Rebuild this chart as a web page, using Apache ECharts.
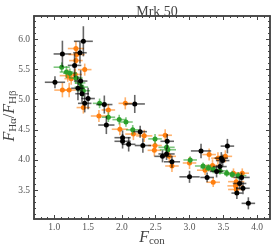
<!DOCTYPE html>
<html><head><meta charset="utf-8">
<script src="https://cdn.jsdelivr.net/npm/echarts@6/dist/echarts.min.js"></script>
<style>html,body{margin:0;padding:0;background:#fff}#c{width:274px;height:248px}</style>
</head><body><div id="c"></div>
<script>
// [x, y, xerr, yerr]
const blackPts = [
[1.01,5.29,0.15,0.10],[1.12,5.76,0.13,0.22],[1.43,5.97,0.14,0.25],[1.30,5.57,0.10,0.20],
[1.38,5.78,0.10,0.18],[1.39,5.31,0.10,0.18],[1.35,5.19,0.10,0.20],[1.41,5.10,0.10,0.15],
[1.50,5.02,0.10,0.18],[1.45,4.94,0.10,0.15],[1.74,4.92,0.12,0.15],[1.77,4.58,0.12,0.15],
[2.19,4.93,0.15,0.15],[2.01,4.37,0.12,0.12],[2.01,4.31,0.12,0.12],[2.10,4.26,0.10,0.12],
[2.27,4.47,0.10,0.10],[2.31,4.24,0.12,0.12],[2.60,4.06,0.12,0.10],[2.67,4.31,0.10,0.12],
[2.66,4.10,0.12,0.10],[2.74,3.97,0.12,0.10],[3.00,3.72,0.15,0.10],[3.17,4.15,0.15,0.12],
[3.56,4.23,0.10,0.12],[3.47,4.03,0.10,0.10],[3.49,3.99,0.10,0.10],[3.45,3.89,0.10,0.10],
[3.40,3.81,0.10,0.10],[3.26,3.71,0.10,0.08],[3.77,3.71,0.12,0.08],[3.74,3.61,0.10,0.10],
[3.79,3.53,0.10,0.10],[3.70,3.45,0.08,0.10],[3.87,3.28,0.10,0.10]
];
const orangePts = [
[1.32,5.85,0.12,0.12],[1.33,5.75,0.12,0.12],[1.32,5.65,0.10,0.10],[1.12,5.16,0.12,0.12],
[1.22,5.16,0.10,0.12],[1.20,5.40,0.12,0.10],[1.25,5.35,0.10,0.10],[1.31,5.42,0.10,0.10],
[1.45,5.50,0.10,0.10],[1.43,4.87,0.10,0.10],[1.66,4.73,0.12,0.10],[1.80,4.83,0.10,0.10],
[2.05,4.94,0.10,0.10],[1.97,4.51,0.12,0.10],[2.17,4.43,0.12,0.10],[2.33,4.40,0.12,0.10],
[2.49,4.24,0.10,0.10],[2.48,4.16,0.10,0.10],[2.64,4.41,0.10,0.10],[2.70,4.06,0.10,0.10],
[2.74,3.90,0.10,0.10],[3.00,3.95,0.10,0.10],[3.23,3.83,0.12,0.08],[3.29,4.09,0.10,0.10],
[3.34,3.91,0.10,0.10],[3.35,3.63,0.10,0.08],[3.42,4.03,0.10,0.10],[3.53,4.06,0.10,0.10],
[3.65,3.78,0.12,0.08],[3.69,3.64,0.12,0.08],[3.68,3.57,0.12,0.08],[3.69,3.51,0.12,0.08],
[3.78,3.78,0.10,0.08]
];
const greenPts = [
[1.11,5.54,0.12,0.08],[1.18,5.46,0.10,0.10],[1.23,5.44,0.10,0.08],[1.32,5.36,0.10,0.10],
[1.38,5.28,0.08,0.10],[1.40,5.21,0.10,0.10],[1.43,5.15,0.10,0.10],[1.67,4.94,0.10,0.08],
[1.80,4.71,0.10,0.08],[1.96,4.67,0.10,0.08],[2.06,4.63,0.10,0.08],[2.16,4.50,0.10,0.08],
[2.49,4.35,0.10,0.08],[2.66,4.21,0.12,0.08],[2.68,4.17,0.12,0.08],[3.01,4.00,0.10,0.06],
[3.20,3.90,0.12,0.06],[3.28,3.87,0.12,0.06],[3.35,3.84,0.12,0.06],[3.45,3.82,0.12,0.06],
[3.55,3.78,0.12,0.06],[3.63,3.76,0.12,0.06],[3.72,3.74,0.12,0.06]
];
const xMajor = [1.0,1.5,2.0,2.5,3.0,3.5,4.0];
const yMajor = [3.5,4.0,4.5,5.0,5.5,6.0];
const X_MIN = 0.7, X_MAX = 4.19, Y_MIN = 3.02, Y_MAX = 6.39;

function minorVals(lo, hi){
  const out=[];
  for(let i=Math.ceil(lo*10-1e-9); i<=Math.floor(hi*10+1e-9); i++){
    if(i%5!==0) out.push(i/10);
  }
  return out;
}
const xMinor = minorVals(X_MIN, X_MAX);
const yMinor = minorVals(Y_MIN, Y_MAX);

const serif = 'Liberation Serif';
const axisColor = '#444';
const labelColor = '#555';
const nameColor = '#444';

function errSeries(pts, color, z){
  return {
    type:'custom', z:z, silent:true,
    data: pts,
    renderItem: function(params, api){
      const x=api.value(0), y=api.value(1), xe=api.value(2), ye=api.value(3);
      const l=api.coord([x-xe,y]), r=api.coord([x+xe,y]);
      const t=api.coord([x,y+ye]), b=api.coord([x,y-ye]);
      const st={stroke:color, lineWidth:1.6, opacity:0.6};
      return {type:'group', children:[
        {type:'line', shape:{x1:l[0],y1:l[1],x2:r[0],y2:r[1]}, style:st},
        {type:'line', shape:{x1:t[0],y1:t[1],x2:b[0],y2:b[1]}, style:st}
      ]};
    },
    encode:{x:0,y:1}
  };
}
function markSeries(pts, color, z){
  return {type:'scatter', z:z, silent:true, symbol:'circle', symbolSize:5,
    itemStyle:{color:color, opacity:1}, data: pts.map(p=>[p[0],p[1]])};
}

function mkX(values, len, pos, showLabel){
  return {type:'value', min:X_MIN, max:X_MAX, position:pos,
    axisLine:{show:true, onZero:false, lineStyle:{color:axisColor,width:1.5}},
    axisTick:{show:true, inside:true, length:len, customValues:values, lineStyle:{color:axisColor,width:1}},
    axisLabel:{show:showLabel, customValues:values, color:labelColor, fontFamily:serif, fontSize:9.5, margin:3,
      formatter:v=>v.toFixed(1)},
    splitLine:{show:false}};
}
function mkY(values, len, pos, showLabel){
  return {type:'value', min:Y_MIN, max:Y_MAX, position:pos,
    axisLine:{show:true, onZero:false, lineStyle:{color:axisColor,width:1.5}},
    axisTick:{show:true, inside:true, length:len, customValues:values, lineStyle:{color:axisColor,width:1}},
    axisLabel:{show:showLabel, customValues:values, color:labelColor, fontFamily:serif, fontSize:9.5, margin:4,
      formatter:v=>v.toFixed(1)},
    splitLine:{show:false}};
}

const xAxes = [mkX(xMajor,4,'bottom',true), mkX(xMinor,2,'bottom',false), mkX(xMajor,4,'top',false), mkX(xMinor,2,'top',false)];
const yAxes = [mkY(yMajor,4,'left',true), mkY(yMinor,2,'left',false), mkY(yMajor,4,'right',false), mkY(yMinor,2,'right',false)];

const richName = {
  i:{fontFamily:serif, fontStyle:'italic', fontSize:16, fill:nameColor, verticalAlign:'top', lineHeight:17},
  n:{fontFamily:serif, fontSize:16, fill:nameColor, verticalAlign:'top', lineHeight:17},
  s:{fontFamily:serif, fontSize:11, fill:nameColor, verticalAlign:'bottom', lineHeight:17}
};

const chart = echarts.init(document.getElementById('c'), null, {renderer:'canvas'});
chart.setOption({
  animation:false,
  title:{text:'Mrk 50', left:152, top:0, textAlign:'center',
    textStyle:{fontFamily:serif, fontWeight:'normal', fontSize:14, color:nameColor}},
  grid:{left:34, right:4, top:16, bottom:29, outerBoundsMode:'none', containLabel:false},
  xAxis: xAxes,
  yAxis: yAxes,
  graphic:[
    {type:'text', x:152, y:238, style:{text:'{i|F}{s|con}', rich:richName, align:'center', verticalAlign:'middle'}},
    {type:'text', x:10, y:116, rotation:Math.PI/2, style:{text:'{i|F}{s|Hα}{n|/}{i|F}{s|Hβ}', rich:richName, align:'center', verticalAlign:'middle'}}
  ],
  series:[
    errSeries(orangePts,'#ff7f0e',2), markSeries(orangePts,'#ff7f0e',3),
    errSeries(greenPts,'#2ca02c',4), markSeries(greenPts,'#2ca02c',5),
    errSeries(blackPts,'#000000',6), markSeries(blackPts,'#000000',7)
  ]
});
</script></body></html>
